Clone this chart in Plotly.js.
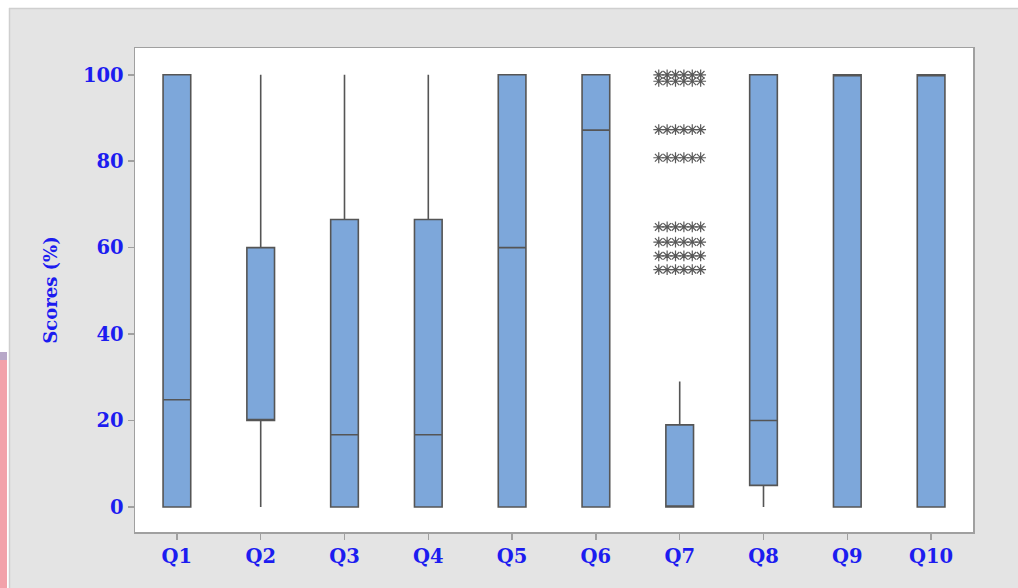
<!DOCTYPE html>
<html>
<head>
<meta charset="utf-8">
<script src="https://cdn.plot.ly/plotly-3.0.1.min.js"></script>
<style>html,body{margin:0;padding:0;background:#fff;}#chart{width:1018px;height:588px;}</style>
</head>
<body>
<div id="chart"></div>
<script>
// ---- data ----
const questions   = ['Q1','Q2','Q3','Q4','Q5','Q6','Q7','Q8','Q9','Q10'];
const lowerFence  = [0,   0,  0,    0,    0,  0,    0,  0,  0,   0];
const q1Values    = [0,   20, 0,    0,    0,  0,    0,  5,  0,   0];
const medianVals  = [24.8,20, 16.7, 16.7, 60, 87.2, 0,  20, 100, 100];
const q3Values    = [100, 60, 66.5, 66.5, 100,100,  19, 100,100, 100];
const upperFence  = [100, 100,100,  100,  100,100,  29, 100,100, 100];
const q7Outliers  = [100, 98.5, 87.3, 80.8, 64.8, 61.3, 58.1, 54.9];
const yTicks      = [0, 20, 40, 60, 80, 100];

const blue = '#1c1cf0';
const serif = '"DejaVu Serif", "Liberation Serif", serif';
const tickFont = {family: serif, size: 19.5, color: blue, weight: 'bold'};

// outlier asterisks, repeated across the box width (Minitab-style)
const q7Index = questions.indexOf('Q7');
const reps = 6;
const ox = [], oy = [];
q7Outliers.forEach(v => {
  for (let k = 0; k < reps; k++) {
    ox.push(q7Index - 0.25 + k * (0.5 / (reps - 1)));
    oy.push(v);
  }
});

const traces = [
  {
    type: 'box',
    x: questions,
    q1: q1Values,
    median: medianVals,
    q3: q3Values,
    lowerfence: lowerFence,
    upperfence: upperFence,
    width: 0.33,
    whiskerwidth: 0,
    fillcolor: '#7da7da',
    line: {color: '#555555', width: 1.6},
    boxpoints: false,
    hoverinfo: 'none',
    showlegend: false
  },
  {
    type: 'scatter',
    mode: 'markers',
    x: ox,
    y: oy,
    xaxis: 'x2',
    marker: {symbol: 'asterisk-open', size: 9, color: '#5a5a5a', line: {color: '#5a5a5a', width: 1.2}},
    hoverinfo: 'none',
    showlegend: false
  }
];

// pixel -> paper helpers for the decorative frame
const L = 135, R = 45, T = 48, B = 56, W = 1018, H = 588;
const pw = W - L - R, ph = H - T - B;
const px = v => (v - L) / pw;
const py = v => (H - B - v) / ph;

const layout = {
  width: W, height: H,
  margin: {l: L, r: R, t: T, b: B},
  paper_bgcolor: '#e4e4e4',
  plot_bgcolor: '#ffffff',
  showlegend: false,
  xaxis: {
    type: 'category',
    range: [-0.5, 9.5],
    showline: true, mirror: true, linecolor: '#a0a0a0', linewidth: 1.5,
    ticks: 'outside', ticklen: 6, tickcolor: '#a0a0a0', tickwidth: 1.5,
    showgrid: false, zeroline: false,
    tickfont: tickFont
  },
  xaxis2: {
    overlaying: 'x', range: [-0.5, 9.5], visible: false, showgrid: false
  },
  yaxis: {
    range: [-5.8, 106.2],
    tickvals: yTicks,
    ticktext: yTicks.map(String),
    showline: true, mirror: true, linecolor: '#a0a0a0', linewidth: 1.5,
    ticks: 'outside', ticklen: 6, tickcolor: '#a0a0a0', tickwidth: 1.5,
    showgrid: false, zeroline: false,
    tickfont: tickFont,
    title: {text: 'Scores (%)', standoff: 20,
            font: {family: serif, size: 18, color: blue, weight: 'bold'}}
  },
  shapes: [
    {type: 'rect', xref: 'paper', yref: 'paper', x0: px(0), x1: px(W), y0: py(0), y1: py(8),
     fillcolor: '#ffffff', line: {width: 0}, layer: 'below'},
    {type: 'rect', xref: 'paper', yref: 'paper', x0: px(0), x1: px(9), y0: py(0), y1: py(H),
     fillcolor: '#ffffff', line: {width: 0}, layer: 'below'},
    {type: 'rect', xref: 'paper', yref: 'paper', x0: px(0), x1: px(7), y0: py(352), y1: py(H),
     fillcolor: '#f2a2aa', line: {width: 0}, layer: 'below'},
    {type: 'rect', xref: 'paper', yref: 'paper', x0: px(0), x1: px(7), y0: py(352), y1: py(360),
     fillcolor: '#b8a8c8', line: {width: 0}, layer: 'below'},
    {type: 'line', xref: 'paper', yref: 'paper', x0: px(9), x1: px(W), y0: py(8.5), y1: py(8.5),
     line: {color: '#cfcfcf', width: 1.5}, layer: 'below'},
    {type: 'line', xref: 'paper', yref: 'paper', x0: px(9.5), x1: px(9.5), y0: py(8), y1: py(H),
     line: {color: '#cfcfcf', width: 1.5}, layer: 'below'}
  ]
};

Plotly.newPlot('chart', traces, layout, {displayModeBar: false, staticPlot: true});
</script>
</body>
</html>
